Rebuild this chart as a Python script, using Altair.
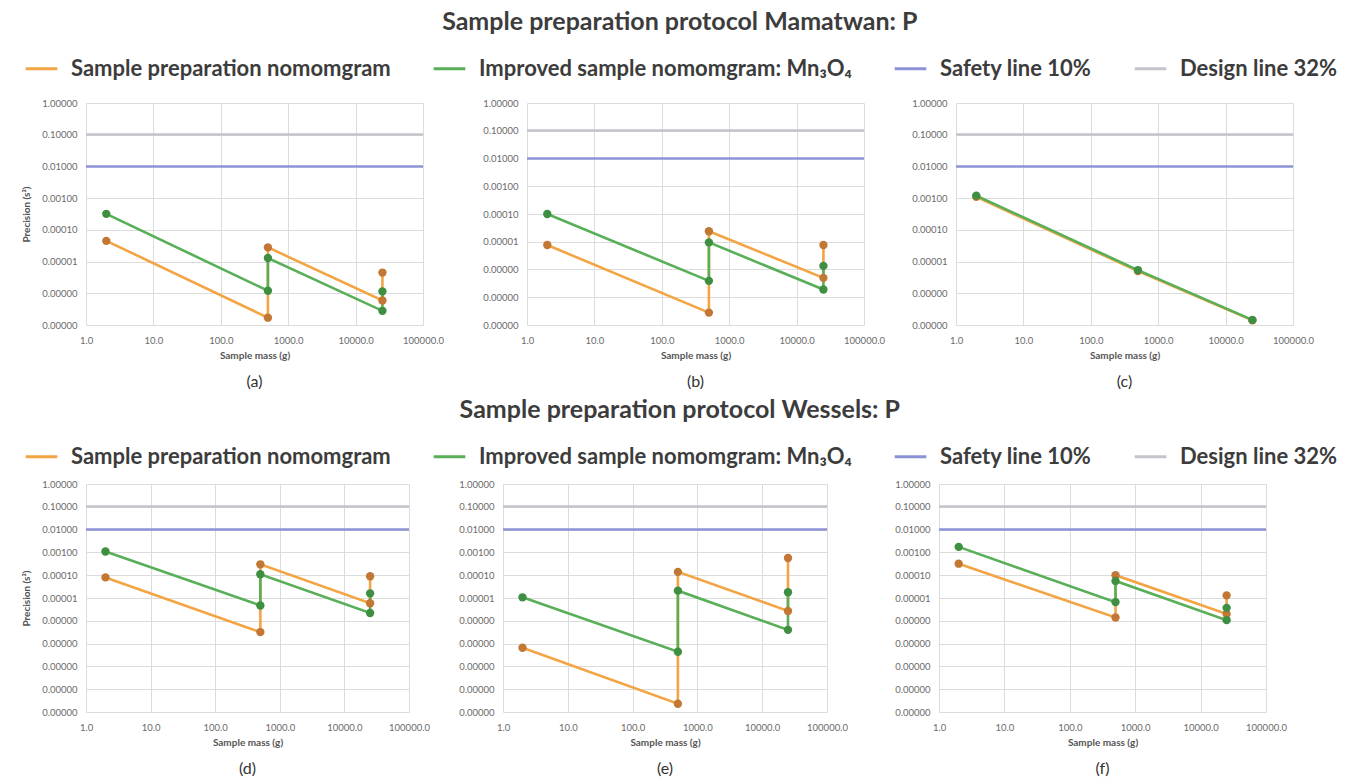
import altair as alt
import pandas as pd

SERIES = ["Sample preparation nomomgram", "Improved sample nomomgram: Mn\u2083O\u2084",
          "Safety line 10%", "Design line 32%"]
LINE_COLORS = ["#F3A443", "#58AF58", "#8C92D6", "#C4C4CC"]
POINT_COLORS = ["#C27834", "#3F8F42"]

TITLE_TOP = "Sample preparation protocol Mamatwan: P"
TITLE_BOTTOM = "Sample preparation protocol Wessels: P"
PANEL_NAMES = ["(a)", "(b)", "(c)", "(d)", "(e)", "(f)"]

MASS_STEPS = [2, 500, 500, 25000, 25000]
MASS_STRAIGHT = [2, 500, 25000]

PREP_A = [4.5e-5, 1.7e-7, 2.8e-5, 5.9e-7, 4.5e-6]
IMPR_A = [3.2e-4, 1.2e-6, 1.3e-5, 2.8e-7, 1.15e-6]
PREP_B = [7.6e-6, 2.8e-8, 2.4e-5, 5.0e-7, 7.6e-6]
IMPR_B = [1.0e-4, 3.9e-7, 9.5e-6, 1.9e-7, 1.35e-6]
PREP_C = [1.1e-3, 5.0e-6, 1.4e-7]
IMPR_C = [1.2e-3, 5.4e-6, 1.45e-7]
PREP_D = [8.0e-5, 3.2e-7, 3.0e-4, 5.9e-6, 9.0e-5]
IMPR_D = [1.1e-3, 4.7e-6, 1.1e-4, 2.2e-6, 1.6e-5]
PREP_E = [6.6e-8, 2.3e-10, 1.4e-4, 2.7e-6, 5.7e-4]
IMPR_E = [1.07e-5, 4.4e-8, 2.1e-5, 4.0e-7, 1.8e-5]
PREP_F = [3.2e-4, 1.4e-6, 1.0e-4, 2.0e-6, 1.3e-5]
IMPR_F = [1.75e-3, 6.6e-6, 5.6e-5, 1.07e-6, 3.7e-6]

SAFETY_LEVEL = 0.01
DESIGN_LEVEL = 0.1024

X_TICKS = [1, 10, 100, 1000, 10000, 100000]
Y_TICKS_7 = [1, 0.1, 0.01, 0.001, 1e-4, 1e-5, 1e-6, 1e-7]
Y_TICKS_8 = Y_TICKS_7 + [1e-8]
Y_TICKS_10 = Y_TICKS_8 + [1e-9, 1e-10]

FONT = "Lato"


def series_frame(masses, values, name):
    return pd.DataFrame({"series": name, "mass": masses, "s2": values,
                         "step": list(range(len(masses)))})


def panel(name, masses, prep, impr, yticks, width, height, y_title, legend_y):
    prep_df = series_frame(masses, prep, SERIES[0])
    impr_df = series_frame(masses, impr, SERIES[1])
    lines_df = pd.DataFrame({"series": SERIES[2:], "s2": [SAFETY_LEVEL, DESIGN_LEVEL]})

    x = alt.X("mass:Q", scale=alt.Scale(type="log", domain=[1, 100000]),
              axis=alt.Axis(values=X_TICKS, format=".1f", title="Sample mass (g)",
                            labelFlush=False, labelPadding=10, titlePadding=6))
    y = alt.Y("s2:Q", scale=alt.Scale(type="log", domain=[min(yticks), 1]),
              axis=alt.Axis(values=yticks, format=".5f", title=y_title))
    color = alt.Color("series:N", scale=alt.Scale(domain=SERIES, range=LINE_COLORS),
                      legend=alt.Legend(title=None, orient="none", legendX=-62,
                                        legendY=legend_y, direction="horizontal",
                                        symbolType="stroke", symbolStrokeWidth=3,
                                        symbolSize=1000, labelFontSize=22, labelFont=FONT,
                                        labelFontWeight="bold", labelColor="#3c3c3c",
                                        labelLimit=600, columnPadding=36, labelOffset=12))
    fill = alt.Fill("series:N", scale=alt.Scale(domain=SERIES[:2], range=POINT_COLORS),
                    legend=None)

    rules = alt.Chart(lines_df).mark_rule(strokeWidth=2.5).encode(y=y, color=color)
    layers = [rules]
    for df in (prep_df, impr_df):
        layers.append(alt.Chart(df).mark_line(strokeWidth=2.6).encode(
            x=x, y=y, color=color, order="step:Q"))
    for df in (prep_df, impr_df):
        layers.append(alt.Chart(df).mark_circle(size=70, opacity=1).encode(
            x=x, y=y, fill=fill))
    return alt.layer(*layers).properties(
        width=width, height=height,
        title=alt.TitleParams(name, orient="bottom", fontSize=16, font=FONT,
                              fontWeight="normal", color="#333333", offset=13))


pa = panel(PANEL_NAMES[0], MASS_STEPS, PREP_A, IMPR_A, Y_TICKS_7, 337, 222, "Precision (s\u00b2)", -52)
pb = panel(PANEL_NAMES[1], MASS_STEPS, PREP_B, IMPR_B, Y_TICKS_8, 337, 222, None, -52)
pc = panel(PANEL_NAMES[2], MASS_STRAIGHT, PREP_C, IMPR_C, Y_TICKS_7, 337, 222, None, -52)
pd_ = panel(PANEL_NAMES[3], MASS_STEPS, PREP_D, IMPR_D, Y_TICKS_10, 323, 228, "Precision (s\u00b2)", -45)
pe = panel(PANEL_NAMES[4], MASS_STEPS, PREP_E, IMPR_E, Y_TICKS_10, 324, 228, None, -45)
pf = panel(PANEL_NAMES[5], MASS_STEPS, PREP_F, IMPR_F, Y_TICKS_10, 327, 228, None, -45)


def row_title(text, offset):
    return alt.TitleParams(text, fontSize=25, font=FONT, fontWeight="bold",
                           color="#3c3c3c", anchor="middle", offset=offset)


row1 = alt.hconcat(alt.hconcat(pa, pb, spacing=38), pc, spacing=26).properties(
    title=row_title(TITLE_TOP, 16))
row2 = alt.hconcat(alt.hconcat(pd_, pe, spacing=28), pf, spacing=46).properties(
    title=row_title(TITLE_BOTTOM, 16))

chart = alt.vconcat(row1, row2, spacing=8).resolve_scale(color="independent").configure_axis(
    labelFont=FONT, labelFontSize=9.5, labelColor="#6a6a6a", labelPadding=9,
    titleFont=FONT, titleFontSize=10, titleFontWeight="bold", titleColor="#555555",
    titlePadding=10, grid=True, gridColor="#dcdcdc", gridWidth=1, domain=False, ticks=False
).configure_view(strokeWidth=0).properties(
    padding={"left": 21, "top": 10, "right": 5, "bottom": 5}, background="white")

chart.save("out.html", embed_options={"renderer": "svg", "actions": False})
